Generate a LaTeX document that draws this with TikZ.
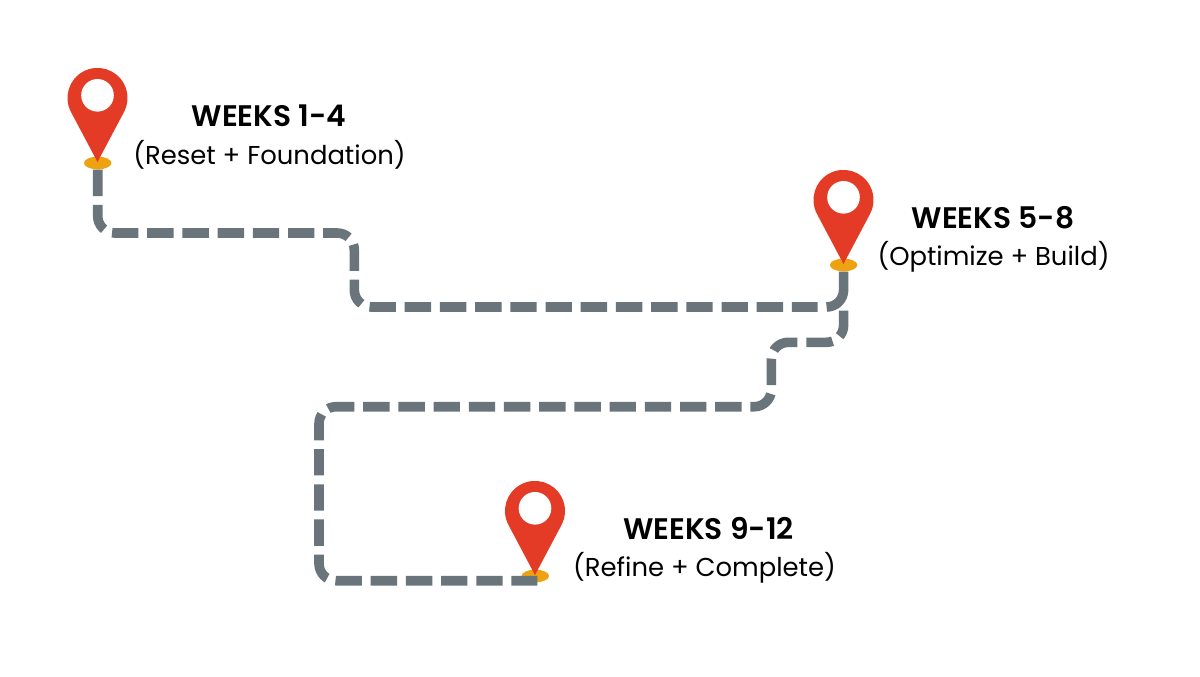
\documentclass[tikz,border=0pt]{standalone}
\usepackage{fontspec}
\setmainfont[BoldFont={Poppins SemiBold}]{Poppins}
\usetikzlibrary{shapes.geometric}
\definecolor{pinred}{HTML}{E33B25}
\definecolor{pingold}{HTML}{EFA20F}
\definecolor{roadgrey}{HTML}{69747B}
\tikzset{
  x=0.75pt,y=0.75pt,
  base/.style={shape=ellipse,fill=pingold,minimum width=20.6pt,minimum height=9.5pt,inner sep=0pt},
  solidroad/.style={draw=roadgrey,line width=7.2pt,rounded corners=12.75pt},
  road/.style={solidroad,dash pattern=on 19.8pt off 6.6pt},
  title/.style={font=\fontsize{22.3}{26}\selectfont\bfseries,text=black,inner sep=0pt},
  sub/.style={font=\fontsize{19.4}{23}\selectfont,text=black,inner sep=0pt},
  pics/pin/.style={code={
    \fill[pinred] (0,0) -- (-26.5,50) arc[start angle=208,end angle=-28,radius=30] -- cycle;
    \fill[white] (0,66.7) circle[radius=16.3];
  }}
}
\begin{document}
\begin{tikzpicture}
\useasboundingbox (0,0) rectangle (1200,-676);
\node[base] (b1) at (97.7,-163) {};
\node[base] (b2) at (843.6,-265) {};
\node[base] (b3) at (535.3,-576) {};
\coordinate (c1) at (97.7,-233);
\coordinate (c2) at (354.3,-233);
\coordinate (c3) at (354.3,-307);
\coordinate (c4) at (817.5,-307);
\coordinate (c5) at (843.6,-307);
\coordinate (c6) at (826.6,-307);
\draw[road] (b1.south) -- (c1) -- (c2) -- (c3) -- (c4);
\draw[solidroad] (b2.south) -- (c5) -- (c6);
\coordinate (d1) at (843.6,-310.7);
\coordinate (d2) at (843.6,-342.3);
\coordinate (d3) at (771.3,-342.3);
\coordinate (d4) at (771.3,-406.7);
\coordinate (d5) at (319,-406.7);
\coordinate (d6) at (319,-580.7);
\coordinate (d7) at (537.3,-580.7);
\draw[road] (d1) -- (d2) -- (d3) -- (d4) -- (d5) -- (d6) -- (d7);
\pic at (97.5,-162) {pin};
\pic at (843.5,-264) {pin};
\pic at (535,-575) {pin};
\node[title] (t1) at (269,-116) {WEEKS 1-4};
\node[sub] (s1) at (269.5,-154.5) {(Reset + Foundation)};
\node[title] (t2) at (993,-218) {WEEKS 5-8};
\node[sub] (s2) at (993.5,-256.5) {(Optimize + Build)};
\node[title] (t3) at (708.5,-529) {WEEKS 9-12};
\node[sub] (s3) at (704.5,-567.5) {(Refine + Complete)};
\end{tikzpicture}
\end{document}
